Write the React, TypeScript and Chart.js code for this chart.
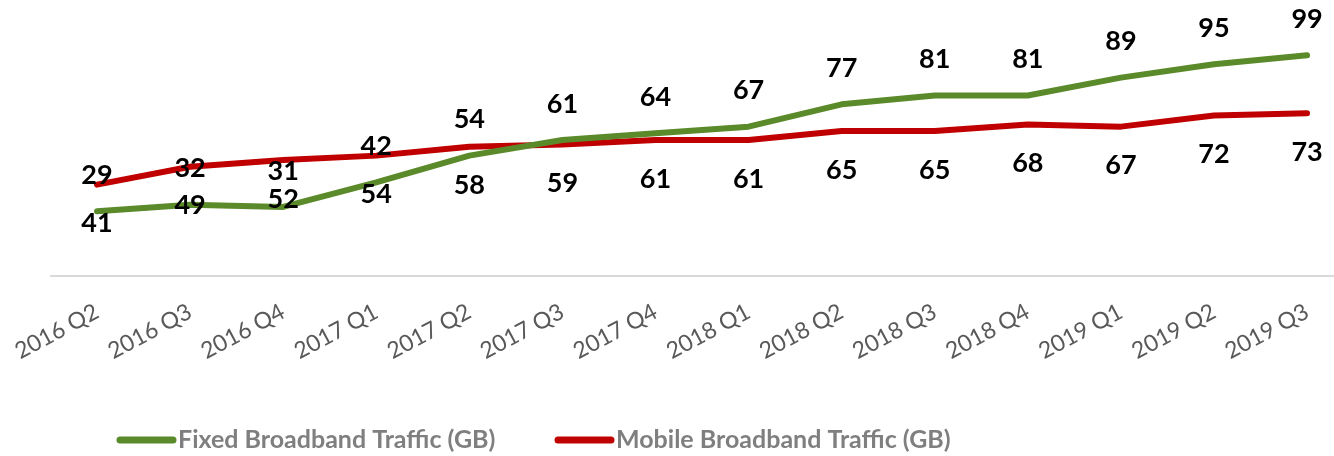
import React, { useEffect, useRef } from "react";
import { Chart, registerables } from "chart.js";

Chart.register(...registerables);

const categories = [
  "2016 Q2", "2016 Q3", "2016 Q4", "2017 Q1", "2017 Q2", "2017 Q3", "2017 Q4",
  "2018 Q1", "2018 Q2", "2018 Q3", "2018 Q4", "2019 Q1", "2019 Q2", "2019 Q3",
];
const fixedTraffic = [29, 32, 31, 42, 54, 61, 64, 67, 77, 81, 81, 89, 95, 99];
const mobileTraffic = [41, 49, 52, 54, 58, 59, 61, 61, 65, 65, 68, 67, 72, 73];
const seriesNames = ["Fixed Broadband Traffic (GB)", "Mobile Broadband Traffic (GB)"];
const seriesColors = ["#5B8A2A", "#C00000"];

const FONT = "Lato, 'Noto Sans', sans-serif";

const valueLabels = {
  id: "valueLabels",
  afterDatasetsDraw(chart: any) {
    const ctx = chart.ctx;
    ctx.save();
    ctx.font = `bold 27px ${FONT}`;
    ctx.fillStyle = "#000000";
    ctx.textAlign = "center";
    ctx.textBaseline = "middle";
    chart.data.datasets.forEach((ds: any, i: number) => {
      const meta = chart.getDatasetMeta(i);
      const off = ds.labelOffset || 0;
      meta.data.forEach((pt: any, j: number) => {
        ctx.fillText(String(ds.data[j]), pt.x, pt.y + off);
      });
    });
    ctx.restore();
  },
};

const baseline = {
  id: "baseline",
  beforeDatasetsDraw(chart: any) {
    const ctx = chart.ctx;
    const y = chart.scales.y.getPixelForValue(0);
    ctx.save();
    ctx.strokeStyle = "#D9D9D9";
    ctx.lineWidth = 2;
    ctx.beginPath();
    ctx.moveTo(50, y);
    ctx.lineTo(chart.width, y);
    ctx.stroke();
    ctx.restore();
  },
};

const customLegend = {
  id: "customLegend",
  afterDraw(chart: any) {
    const ctx = chart.ctx;
    const y = 440;
    const starts = [117, 555];
    ctx.save();
    ctx.font = `bold 25px ${FONT}`;
    ctx.textBaseline = "middle";
    ctx.textAlign = "left";
    chart.data.datasets.forEach((ds: any, i: number) => {
      const x = starts[i];
      ctx.strokeStyle = ds.borderColor;
      ctx.lineWidth = 7;
      ctx.lineCap = "round";
      ctx.beginPath();
      ctx.moveTo(x + 3, y);
      ctx.lineTo(x + 56, y);
      ctx.stroke();
      ctx.fillStyle = "#7F7F7F";
      ctx.fillText(ds.label, x + 61, y);
    });
    ctx.restore();
  },
};

export default function App() {
  const canvasRef = useRef<HTMLCanvasElement | null>(null);

  useEffect(() => {
    if (!canvasRef.current) return;
    const chart = new Chart(canvasRef.current, {
      type: "line",
      data: {
        labels: categories,
        datasets: [
          {
            label: seriesNames[0],
            data: fixedTraffic,
            borderColor: seriesColors[0],
            backgroundColor: seriesColors[0],
            borderWidth: 6,
            borderCapStyle: "round",
            borderJoinStyle: "round",
            pointRadius: 0,
            tension: 0,
            labelOffset: -36,
          } as any,
          {
            label: seriesNames[1],
            data: mobileTraffic,
            borderColor: seriesColors[1],
            backgroundColor: seriesColors[1],
            borderWidth: 6,
            borderCapStyle: "round",
            borderJoinStyle: "round",
            pointRadius: 0,
            tension: 0,
            labelOffset: 39,
          } as any,
        ],
      },
      options: {
        animation: false,
        responsive: true,
        maintainAspectRatio: false,
        layout: { padding: { left: 97, right: 24, top: 8.5, bottom: 0 } },
        plugins: {
          legend: { display: false },
          tooltip: { enabled: false },
        },
        scales: {
          x: {
            type: "category",
            offset: false,
            grid: { display: false },
            border: { display: false },
            ticks: {
              color: "#595959",
              font: { family: FONT, size: 23 },
              minRotation: 28,
              maxRotation: 28,
              autoSkip: false,
              padding: 14,
            },
            afterFit(scale: any) {
              scale.height = 180;
            },
          },
          y: {
            display: false,
            min: 0,
            max: 120,
          },
        },
      },
      plugins: [baseline, valueLabels, customLegend],
    });
    return () => chart.destroy();
  }, []);

  return (
    <div style={{ position: "fixed", left: 0, top: 0, width: 1334, height: 456, background: "#ffffff" }}>
      <canvas ref={canvasRef} />
    </div>
  );
}
